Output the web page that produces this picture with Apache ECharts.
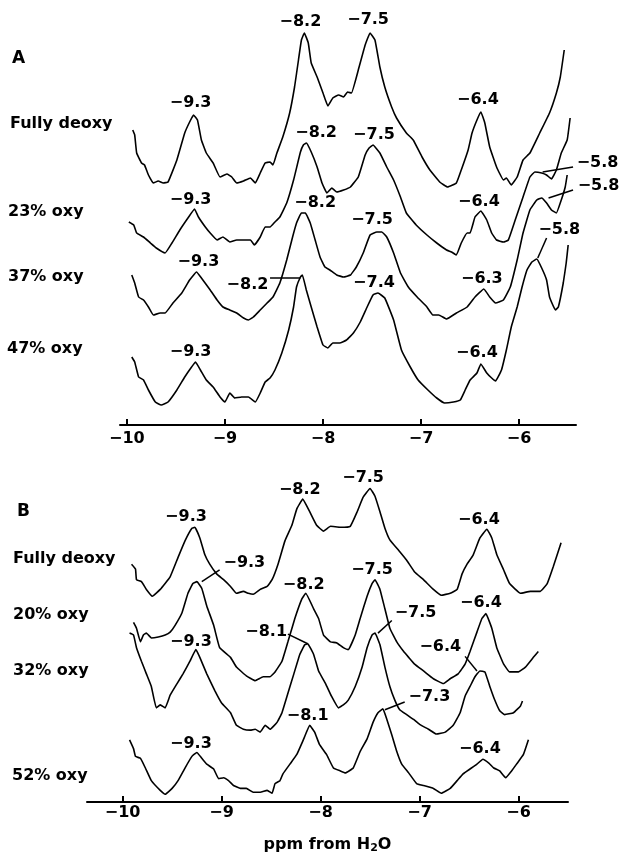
<!DOCTYPE html>
<html>
<head>
<meta charset="utf-8">
<script src="https://cdn.jsdelivr.net/npm/echarts@6/dist/echarts.min.js"></script>
<style>
  html, body { margin: 0; padding: 0; background: #fff; }
  #chart { width: 623px; height: 855px; }
</style>
</head>
<body>
<div id="chart"></div>
<script>
// tick positions shared by both ppm axes
const tickValues = [-10, -9, -8, -7, -6];

// panel A: deoxy -> 47% oxy, [ppm, intensity]
const aDeoxy = [[-9.94,295],[-9.92,290],[-9.90,272],[-9.85,262],[-9.82,260],[-9.78,250],[-9.73,242],[-9.68,244],[-9.63,242],[-9.58,243],[-9.49,265],[-9.41,292],[-9.36,303],[-9.32,310],[-9.28,305],[-9.24,285],[-9.19,272],[-9.12,262],[-9.05,248],[-8.98,251],[-8.93,248],[-8.88,242],[-8.81,244],[-8.74,247],[-8.69,242],[-8.64,252],[-8.59,262],[-8.54,263],[-8.51,260],[-8.47,272],[-8.41,288],[-8.34,312],[-8.29,338],[-8.25,365],[-8.22,385],[-8.19,392],[-8.15,382],[-8.12,362],[-8.06,348],[-8.00,332],[-7.95,319],[-7.90,327],[-7.84,330],[-7.79,328],[-7.75,333],[-7.71,332],[-7.64,355],[-7.57,380],[-7.52,392],[-7.47,385],[-7.42,358],[-7.37,338],[-7.30,318],[-7.25,307],[-7.15,292],[-7.08,285],[-6.99,268],[-6.91,255],[-6.81,243],[-6.73,238],[-6.64,242],[-6.59,255],[-6.52,275],[-6.48,292],[-6.43,305],[-6.39,313],[-6.35,302],[-6.30,278],[-6.23,258],[-6.16,245],[-6.13,247],[-6.08,240],[-6.02,248],[-5.96,265],[-5.89,272],[-5.79,292],[-5.69,312],[-5.62,332],[-5.58,348],[-5.54,375]];
const aOxy23 = [[-9.98,203],[-9.93,200],[-9.90,192],[-9.83,188],[-9.76,182],[-9.70,177],[-9.61,172],[-9.54,182],[-9.46,195],[-9.37,208],[-9.31,216],[-9.27,208],[-9.20,198],[-9.15,192],[-9.08,185],[-9.02,188],[-8.95,183],[-8.88,185],[-8.81,185],[-8.74,185],[-8.70,180],[-8.64,188],[-8.59,198],[-8.54,198],[-8.49,203],[-8.44,208],[-8.37,222],[-8.30,245],[-8.23,273],[-8.20,280],[-8.17,282],[-8.12,273],[-8.06,258],[-8.01,242],[-7.96,232],[-7.91,237],[-7.86,233],[-7.79,235],[-7.72,238],[-7.64,248],[-7.57,270],[-7.53,277],[-7.49,280],[-7.42,272],[-7.35,258],[-7.28,245],[-7.21,228],[-7.15,212],[-7.05,200],[-6.94,190],[-6.84,182],[-6.74,175],[-6.69,173],[-6.64,170],[-6.59,182],[-6.53,192],[-6.50,192],[-6.45,208],[-6.39,214],[-6.33,205],[-6.28,192],[-6.23,185],[-6.16,183],[-6.11,185],[-6.04,205],[-5.96,228],[-5.89,248],[-5.84,253],[-5.77,252],[-5.72,250],[-5.67,246],[-5.62,255],[-5.57,272],[-5.51,285],[-5.48,307]];
const aOxy37 = [[-9.95,150],[-9.92,142],[-9.88,128],[-9.83,125],[-9.78,118],[-9.73,110],[-9.66,112],[-9.61,112],[-9.53,122],[-9.44,132],[-9.36,145],[-9.29,153],[-9.24,147],[-9.15,135],[-9.08,125],[-9.02,118],[-8.95,115],[-8.88,112],[-8.81,107],[-8.76,105],[-8.71,108],[-8.64,115],[-8.57,122],[-8.51,128],[-8.44,142],[-8.37,165],[-8.31,188],[-8.27,202],[-8.22,212],[-8.18,212],[-8.13,202],[-8.08,185],[-8.03,168],[-7.98,158],[-7.93,155],[-7.86,150],[-7.79,148],[-7.72,150],[-7.66,158],[-7.59,172],[-7.52,190],[-7.45,193],[-7.40,193],[-7.35,188],[-7.28,172],[-7.21,152],[-7.13,138],[-7.04,128],[-6.94,118],[-6.88,110],[-6.82,110],[-6.74,106],[-6.64,112],[-6.53,118],[-6.45,128],[-6.36,136],[-6.30,128],[-6.24,122],[-6.16,125],[-6.09,138],[-6.02,165],[-5.96,192],[-5.89,215],[-5.82,225],[-5.77,227],[-5.72,222],[-5.67,215],[-5.62,212],[-5.57,225],[-5.53,238],[-5.51,250]];
const aOxy47 = [[-9.95,68],[-9.92,63],[-9.88,48],[-9.83,45],[-9.78,35],[-9.71,23],[-9.65,20],[-9.58,23],[-9.49,35],[-9.41,48],[-9.34,58],[-9.30,63],[-9.25,55],[-9.19,45],[-9.12,38],[-9.05,28],[-9.00,23],[-8.95,32],[-8.90,27],[-8.83,28],[-8.76,28],[-8.69,23],[-8.64,32],[-8.59,43],[-8.54,47],[-8.49,55],[-8.42,72],[-8.35,95],[-8.30,118],[-8.27,138],[-8.23,148],[-8.21,150],[-8.17,135],[-8.12,118],[-8.06,98],[-8.00,80],[-7.95,77],[-7.90,82],[-7.83,82],[-7.76,85],[-7.69,92],[-7.62,103],[-7.55,118],[-7.49,130],[-7.44,132],[-7.37,127],[-7.28,105],[-7.20,75],[-7.11,58],[-7.03,45],[-6.93,35],[-6.84,27],[-6.76,22],[-6.67,23],[-6.60,25],[-6.55,35],[-6.50,45],[-6.43,52],[-6.39,61],[-6.33,52],[-6.28,47],[-6.24,44],[-6.18,55],[-6.13,75],[-6.08,98],[-6.02,118],[-5.97,138],[-5.92,155],[-5.87,163],[-5.82,166],[-5.77,157],[-5.72,145],[-5.69,128],[-5.63,115],[-5.60,118],[-5.55,142],[-5.52,162],[-5.50,180]];

// panel B: deoxy -> 52% oxy
const bDeoxy = [[-9.91,245],[-9.87,240],[-9.86,229],[-9.81,227],[-9.76,219],[-9.70,212],[-9.62,219],[-9.52,232],[-9.44,252],[-9.37,269],[-9.30,282],[-9.27,283],[-9.22,272],[-9.17,255],[-9.12,245],[-9.05,235],[-8.98,229],[-8.91,222],[-8.85,215],[-8.78,217],[-8.73,215],[-8.68,214],[-8.61,219],[-8.54,222],[-8.49,229],[-8.43,245],[-8.36,269],[-8.29,285],[-8.24,302],[-8.18,312],[-8.11,299],[-8.04,285],[-7.97,279],[-7.90,284],[-7.80,283],[-7.70,284],[-7.63,299],[-7.57,314],[-7.50,323],[-7.45,315],[-7.40,299],[-7.35,282],[-7.30,270],[-7.21,259],[-7.13,249],[-7.05,237],[-6.96,229],[-6.86,219],[-6.78,213],[-6.69,215],[-6.62,219],[-6.57,235],[-6.52,245],[-6.46,254],[-6.39,272],[-6.32,281],[-6.27,272],[-6.22,255],[-6.15,239],[-6.09,225],[-5.98,215],[-5.88,217],[-5.78,217],[-5.71,225],[-5.65,242],[-5.57,267]];
const bOxy20 = [[-9.89,185],[-9.86,179],[-9.82,165],[-9.79,172],[-9.76,174],[-9.71,169],[-9.64,170],[-9.57,172],[-9.52,175],[-9.47,182],[-9.40,195],[-9.34,215],[-9.29,225],[-9.25,227],[-9.20,220],[-9.15,202],[-9.08,182],[-9.02,159],[-8.91,149],[-8.85,139],[-8.75,130],[-8.66,125],[-8.58,129],[-8.51,129],[-8.46,134],[-8.39,145],[-8.33,165],[-8.26,189],[-8.19,209],[-8.15,215],[-8.07,199],[-8.02,189],[-7.97,172],[-7.90,165],[-7.84,164],[-7.77,159],[-7.72,157],[-7.65,172],[-7.60,189],[-7.53,212],[-7.48,225],[-7.45,229],[-7.40,219],[-7.35,199],[-7.30,179],[-7.23,165],[-7.16,155],[-7.11,149],[-7.05,142],[-6.96,135],[-6.86,127],[-6.76,122],[-6.69,127],[-6.61,132],[-6.54,142],[-6.49,155],[-6.42,175],[-6.37,189],[-6.33,194],[-6.27,179],[-6.22,159],[-6.15,142],[-6.09,134],[-6.00,134],[-5.93,139],[-5.85,149],[-5.80,155]];
const bOxy32 = [[-9.93,174],[-9.89,172],[-9.86,159],[-9.81,145],[-9.76,132],[-9.71,119],[-9.66,97],[-9.62,100],[-9.57,97],[-9.52,110],[-9.45,122],[-9.39,132],[-9.32,145],[-9.26,157],[-9.22,149],[-9.15,132],[-9.07,115],[-9.00,102],[-8.91,92],[-8.85,79],[-8.78,75],[-8.71,74],[-8.66,75],[-8.61,72],[-8.56,79],[-8.51,75],[-8.44,82],[-8.39,92],[-8.33,112],[-8.27,132],[-8.21,152],[-8.16,162],[-8.13,163],[-8.07,152],[-8.02,135],[-7.95,122],[-7.89,109],[-7.82,97],[-7.77,100],[-7.72,105],[-7.65,119],[-7.58,139],[-7.53,159],[-7.48,172],[-7.45,174],[-7.40,162],[-7.35,139],[-7.30,119],[-7.25,105],[-7.20,95],[-7.13,90],[-7.06,85],[-7.00,80],[-6.91,75],[-6.83,70],[-6.74,72],[-6.66,79],[-6.59,92],[-6.54,109],[-6.49,119],[-6.44,129],[-6.39,135],[-6.34,134],[-6.29,119],[-6.24,105],[-6.19,94],[-6.14,90],[-6.05,92],[-5.98,99],[-5.96,104]];
const bOxy52 = [[-9.93,64],[-9.89,55],[-9.87,47],[-9.82,45],[-9.77,35],[-9.71,22],[-9.62,12],[-9.57,8],[-9.50,14],[-9.44,22],[-9.37,35],[-9.30,47],[-9.25,51],[-9.20,45],[-9.15,39],[-9.08,34],[-9.03,24],[-8.98,25],[-8.93,22],[-8.88,17],[-8.81,14],[-8.75,14],[-8.68,10],[-8.61,10],[-8.54,12],[-8.49,9],[-8.46,19],[-8.41,22],[-8.38,29],[-8.31,39],[-8.24,49],[-8.17,65],[-8.11,79],[-8.06,72],[-8.01,59],[-7.94,49],[-7.87,35],[-7.80,32],[-7.75,30],[-7.67,35],[-7.60,52],[-7.53,65],[-7.47,82],[-7.42,92],[-7.37,96],[-7.33,85],[-7.28,69],[-7.23,52],[-7.18,39],[-7.11,30],[-7.03,19],[-6.96,17],[-6.86,14],[-6.78,9],[-6.69,14],[-6.62,22],[-6.56,29],[-6.49,34],[-6.42,39],[-6.36,44],[-6.30,40],[-6.25,35],[-6.19,32],[-6.13,25],[-6.07,32],[-6.02,39],[-5.95,49],[-5.90,64]];

// peak labels [ppm, intensity, text]
const aPeakLabels = [
  [-8.23,403,'−8.2'],[-7.54,405,'−7.5'],[-9.35,322,'−9.3'],[-6.42,325,'−6.4'],
  [-9.35,225,'−9.3'],[-8.07,292,'−8.2'],[-7.48,290,'−7.5'],[-6.41,223,'−6.4'],[-5.20,262,'−5.8'],
  [-9.27,163,'−9.3'],[-8.08,222,'−8.2'],[-7.50,205,'−7.5'],[-6.38,146,'−6.3'],[-5.19,239,'−5.8'],
  [-9.35,73,'−9.3'],[-8.77,140,'−8.2'],[-7.48,142,'−7.4'],[-6.43,72,'−6.4'],[-5.59,195,'−5.8']
];
const bPeakLabels = [
  [-8.21,322,'−8.2'],[-7.57,334,'−7.5'],[-9.36,294,'−9.3'],[-6.40,291,'−6.4'],
  [-8.77,246,'−9.3'],[-8.17,224,'−8.2'],[-7.48,239,'−7.5'],[-6.38,205,'−6.4'],
  [-9.31,165,'−9.3'],[-8.55,175,'−8.1'],[-7.04,195,'−7.5'],[-6.79,160,'−6.4'],
  [-9.31,60,'−9.3'],[-8.13,89,'−8.1'],[-6.90,108,'−7.3'],[-6.39,55,'−6.4']
];

// leader lines from label to peak
const aLeaders = [
  [[-5.76,253],[-5.45,258]],
  [[-5.70,227],[-5.45,235]],
  [[-5.81,167],[-5.72,187]],
  [[-8.54,147],[-8.23,147]]
];
const bLeaders = [
  [[-9.20,227],[-9.02,239]],
  [[-8.33,173],[-8.13,163]],
  [[-7.28,187],[-7.42,174]],
  [[-6.54,150],[-6.42,135]],
  [[-7.15,103],[-7.35,95]]
];

const FONT = 'DejaVu Sans';
const chart = echarts.init(document.getElementById('chart'));

function ppmAxis(idx, min, max, margin, withName) {
  const ax = {
    type: 'value',
    gridIndex: idx,
    min: min,
    max: max,
    axisLine: { onZero: false, lineStyle: { color: '#000', width: 2 } },
    axisTick: { inside: true, length: 6, customValues: tickValues, lineStyle: { color: '#000', width: 2 } },
    axisLabel: {
      customValues: tickValues,
      margin: margin,
      color: '#000',
      fontFamily: FONT,
      fontWeight: 'bold',
      fontSize: 16,
      formatter: v => '−' + Math.abs(v)
    },
    splitLine: { show: false }
  };
  if (withName) {
    ax.name = '{a|ppm from H}{s|2}{a|O}';
    ax.nameLocation = 'middle';
    ax.nameGap = 33;
    ax.nameTextStyle = {
      rich: {
        a: { fontFamily: FONT, fontWeight: 'bold', fontSize: 16, color: '#000' },
        s: { fontFamily: FONT, fontWeight: 'bold', fontSize: 11, color: '#000', verticalAlign: 'bottom', padding: [8, 0, 0, 0] }
      }
    };
  }
  return ax;
}

function spectrum(data, idx) {
  return {
    type: 'line', xAxisIndex: idx, yAxisIndex: idx, data: data,
    symbol: 'none', smooth: 0.1, silent: true,
    lineStyle: { color: '#000', width: 1.6 }
  };
}

function peakLabels(data, idx) {
  return {
    type: 'scatter', xAxisIndex: idx, yAxisIndex: idx, data: data,
    symbolSize: 1, clip: false, silent: true,
    itemStyle: { color: '#fff', opacity: 1 },
    label: {
      show: true, position: 'inside', formatter: p => p.data[2],
      color: '#000', textBorderWidth: 0, opacity: 1,
      fontFamily: FONT, fontWeight: 'bold', fontSize: 16
    }
  };
}

function leaders(data, idx) {
  return {
    type: 'lines', coordinateSystem: 'cartesian2d', xAxisIndex: idx, yAxisIndex: idx,
    data: data.map(c => ({ coords: c })), silent: true,
    lineStyle: { color: '#000', width: 1.5, opacity: 1 }
  };
}

const sideText = (text, x, y, size) => ({
  type: 'text', left: x, top: y - (size || 16) * 0.6,
  style: { text: text, fill: '#000', font: 'bold ' + (size || 16) + 'px "' + FONT + '"' }
});

const option = {
  animation: false,
  backgroundColor: '#fff',
  grid: [
    { left: 120, right: 47, top: 0, height: 425 },
    { left: 87, right: 55, top: 470, height: 342 }
  ],
  xAxis: [ppmAxis(0, -10.07, -5.42, 6, false), ppmAxis(1, -10.36, -5.5, 3, true)],
  yAxis: [
    { type: 'value', gridIndex: 0, min: 0, max: 425, show: false },
    { type: 'value', gridIndex: 1, min: 0, max: 342, show: false }
  ],
  series: [
    spectrum(aDeoxy, 0), spectrum(aOxy23, 0), spectrum(aOxy37, 0), spectrum(aOxy47, 0),
    spectrum(bDeoxy, 1), spectrum(bOxy20, 1), spectrum(bOxy32, 1), spectrum(bOxy52, 1),
    peakLabels(aPeakLabels, 0), peakLabels(bPeakLabels, 1),
    leaders(aLeaders, 0), leaders(bLeaders, 1)
  ],
  graphic: [
    sideText('A', 12, 60, 17),
    sideText('Fully deoxy', 10, 125),
    sideText('23% oxy', 8, 213),
    sideText('37% oxy', 8, 278),
    sideText('47% oxy', 7, 350),
    sideText('B', 17, 513, 17),
    sideText('Fully deoxy', 13, 560),
    sideText('20% oxy', 13, 616),
    sideText('32% oxy', 13, 672),
    sideText('52% oxy', 12, 777)
  ]
};

chart.setOption(option);
</script>
</body>
</html>
